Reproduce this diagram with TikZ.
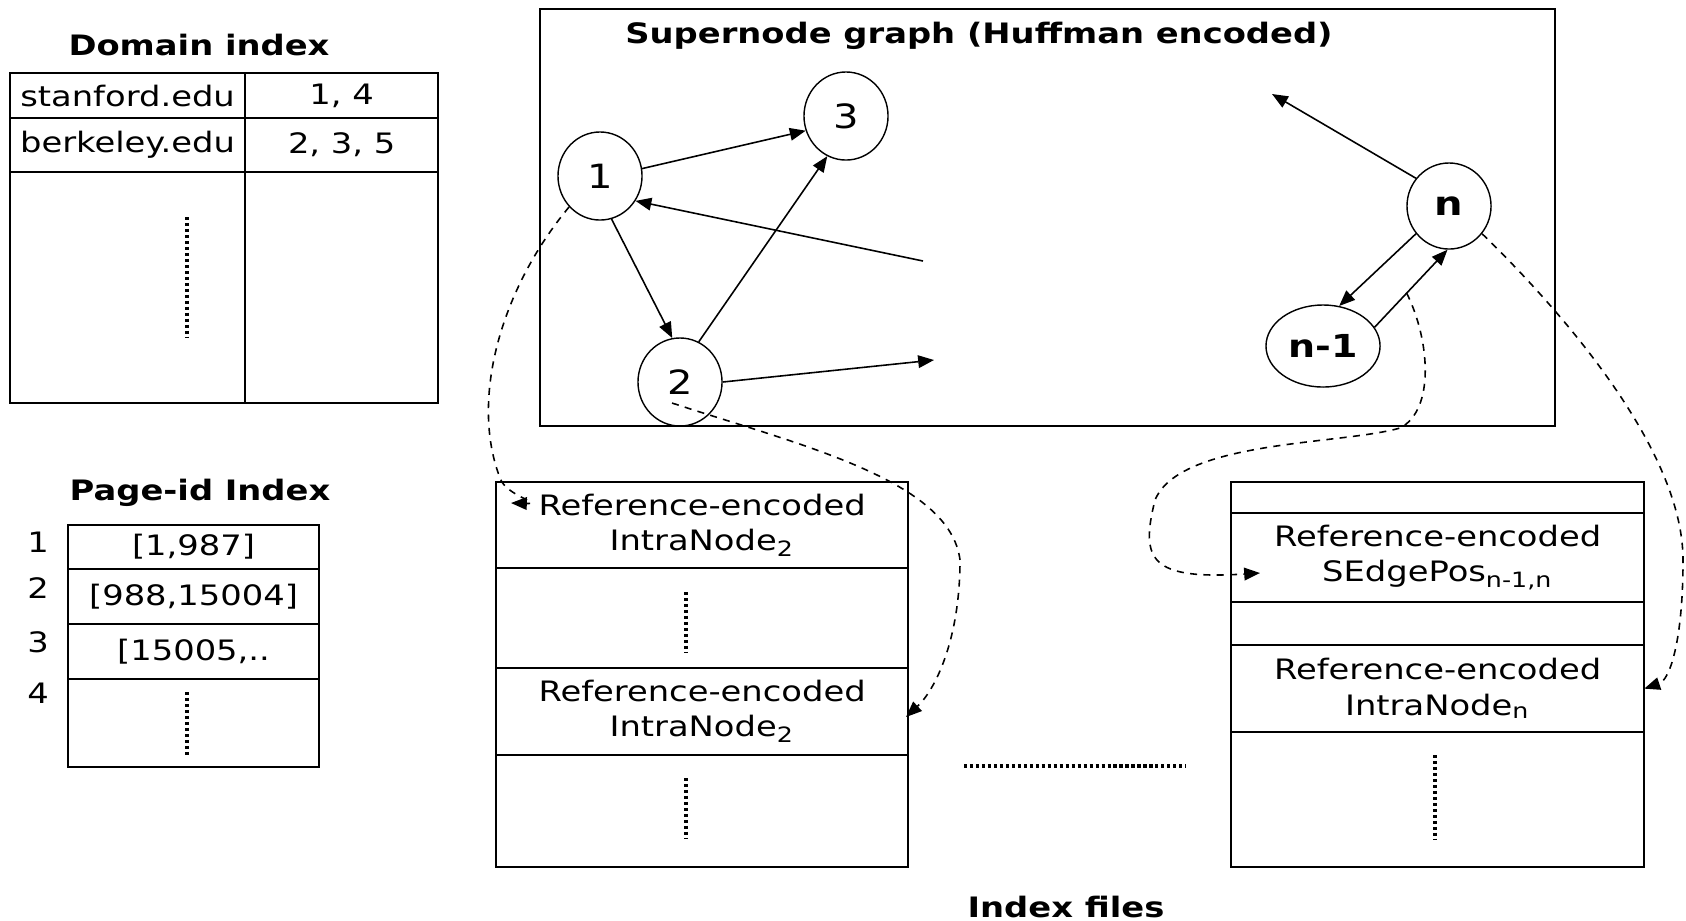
\documentclass[tikz,border=0pt]{standalone}
\usepackage{fontspec}
\setmainfont{DejaVu Sans}[FakeStretch=1.2]
\usetikzlibrary{positioning,shapes.geometric,arrows.meta}

\begin{document}
\begin{tikzpicture}[x=0.01cm,y=-0.01cm,font=\fontsize{8}{10}\selectfont]
       \tikzset{cell/.style={draw, rectangle, inner sep=0pt, outer sep=0pt, align=center, line width=0.6pt}}
       \tikzset{snode/.style={draw, ellipse, inner sep=0pt, minimum width=0.84cm,
                minimum height=0.88cm, line width=0.4pt, font=\fontsize{9.5}{11}\selectfont}}
       \tikzset{title/.style={font=\fontsize{8}{10}\selectfont\bfseries}}
       \tikzset{arr/.style={-{Triangle[length=4.5pt,width=3.6pt]}, line width=0.45pt}}
       \tikzset{refline/.style={arr, dash pattern=on 2pt off 1.8pt}}
       \tikzset{dotbar/.style={line width=1.1pt, dash pattern=on 0.9pt off 0.8pt}}

        \useasboundingbox (0,0) rectangle (1686,920);

        % domain index
        \node[title] (domt) at (199,45) {Domain index};
        \node[cell, anchor=north west, minimum width=2.35cm, minimum height=0.45cm] (d11) at (10,73) {stanford.edu};
        \node[cell, right=0pt of d11, minimum width=1.93cm, minimum height=0.45cm] (d12) {1, 4};
        \node[cell, below=0pt of d11, minimum width=2.35cm, minimum height=0.54cm] (d21) {berkeley.edu};
        \node[cell, right=0pt of d21, minimum width=1.93cm, minimum height=0.54cm] (d22) {2, 3, 5};
        \node[cell, below=0pt of d21, minimum width=2.35cm, minimum height=2.31cm] (d31) {};
        \node[cell, right=0pt of d31, minimum width=1.93cm, minimum height=2.31cm] (d32) {};
        \draw[dotbar] (187,217) -- (187,337);

        % page-id index
        \node[title] (pagt) at (200,493) {Page-id Index};
        \node[cell, anchor=north west, minimum width=2.51cm, minimum height=0.44cm] (p1) at (68,525) {[1,987]};
        \node[cell, below=0pt of p1, minimum width=2.51cm, minimum height=0.55cm] (p2) {[988,15004]};
        \node[cell, below=0pt of p2, minimum width=2.51cm, minimum height=0.55cm] (p3) {[15005,..};
        \node[cell, below=0pt of p3, minimum width=2.51cm, minimum height=0.88cm] (p4) {};
        \node (pn1) at (38,542) {1};
        \node (pn2) at (38,588) {2};
        \node (pn3) at (38,642) {3};
        \node (pn4) at (38,693) {4};
        \draw[dotbar] (187,692) -- (187,755);

        % supernode graph
        \draw[line width=0.6pt] (540,9) rectangle (1555,426);
        \node[title] (sgt) at (979,36) {Supernode graph (Huffman encoded)};
        \node[snode] (n1) at (600,176) {1};
        \node[snode] (n3) at (846,116) {3};
        \node[snode] (n2) at (680,382) {2};
        \node[snode, minimum height=0.86cm] (nn) at (1449,206) {\textbf{n}};
        \node[snode, minimum width=1.14cm, minimum height=0.82cm, font=\fontsize{9}{11}\selectfont] (nm1) at (1323,346) {\textbf{n-1}};

        \coordinate (e1) at (923,261);
        \coordinate (e2) at (934,360);
        \coordinate (en) at (1272,94);

        \draw[arr] (n1.10) -- (n3.200);
        \draw[arr] (e1) -- (n1.-35);
        \draw[arr] (n1.-75) -- (n2.100);
        \draw[arr] (n2.65) -- (n3.-115);
        \draw[arr] (n2.east) -- (e2);
        \draw[arr] (nn.140) -- (en);
        \draw[arr] (nn.-140) -- (nm1.68);
        \draw[arr] (nm1.20) -- coordinate[pos=0.44] (sp) (nn.-92);

        % index files
        \node[cell, anchor=north west, minimum width=4.12cm, minimum height=0.86cm] (fa1) at (496,482) {Reference-encoded\\IntraNode\textsubscript{2}};
        \node[cell, below=0pt of fa1, minimum width=4.12cm, minimum height=1.00cm] (fa2) {};
        \node[cell, below=0pt of fa2, minimum width=4.12cm, minimum height=0.87cm] (fa3) {Reference-encoded\\IntraNode\textsubscript{2}};
        \node[cell, below=0pt of fa3, minimum width=4.12cm, minimum height=1.12cm] (fa4) {};
        \draw[dotbar] (686,592) -- (686,652);
        \draw[dotbar] (686,778) -- (686,838);

        \node[cell, anchor=north west, minimum width=4.13cm, minimum height=0.31cm] (fb1) at (1231,482) {};
        \node[cell, below=0pt of fb1, minimum width=4.13cm, minimum height=0.89cm] (fb2) {Reference-encoded\\SEdgePos\textsubscript{n-1,n}};
        \node[cell, below=0pt of fb2, minimum width=4.13cm, minimum height=0.43cm] (fb3) {};
        \node[cell, below=0pt of fb3, minimum width=4.13cm, minimum height=0.87cm] (fb4) {Reference-encoded\\IntraNode\textsubscript{n}};
        \node[cell, below=0pt of fb4, minimum width=4.13cm, minimum height=1.35cm] (fb5) {};
        \draw[dotbar] (1435,755) -- (1435,840);

        \draw[dotbar] (964,766) -- (1186,766);
        \node[title] (idxt) at (1066,907) {Index files};

        % references into the index files
        \coordinate (t1) at (511,503);
        \coordinate (s2) at (672,403);
        \coordinate (t2) at (906,717);
        \coordinate (t3) at (1260,573);

        \draw[refline] (n1.-135) .. controls (500,290) and (470,400) .. (500,478)
                .. controls (506,496) and (545,504) .. (t1);
        \draw[refline] (s2) .. controls (800,445) and (950,480) .. (960,560)
                .. controls (960,640) and (935,690) .. (t2);
        \draw[refline] (sp) .. controls (1430,340) and (1435,410) .. (1400,428)
                .. controls (1340,445) and (1180,440) .. (1155,500)
                .. controls (1140,560) and (1150,580) .. (t3);
        \draw[refline] (nn.-40) .. controls (1540,290) and (1683,440) .. (1683,560)
                .. controls (1683,640) and (1670,680) .. (fb4.east);

   \end{tikzpicture}
\end{document}
